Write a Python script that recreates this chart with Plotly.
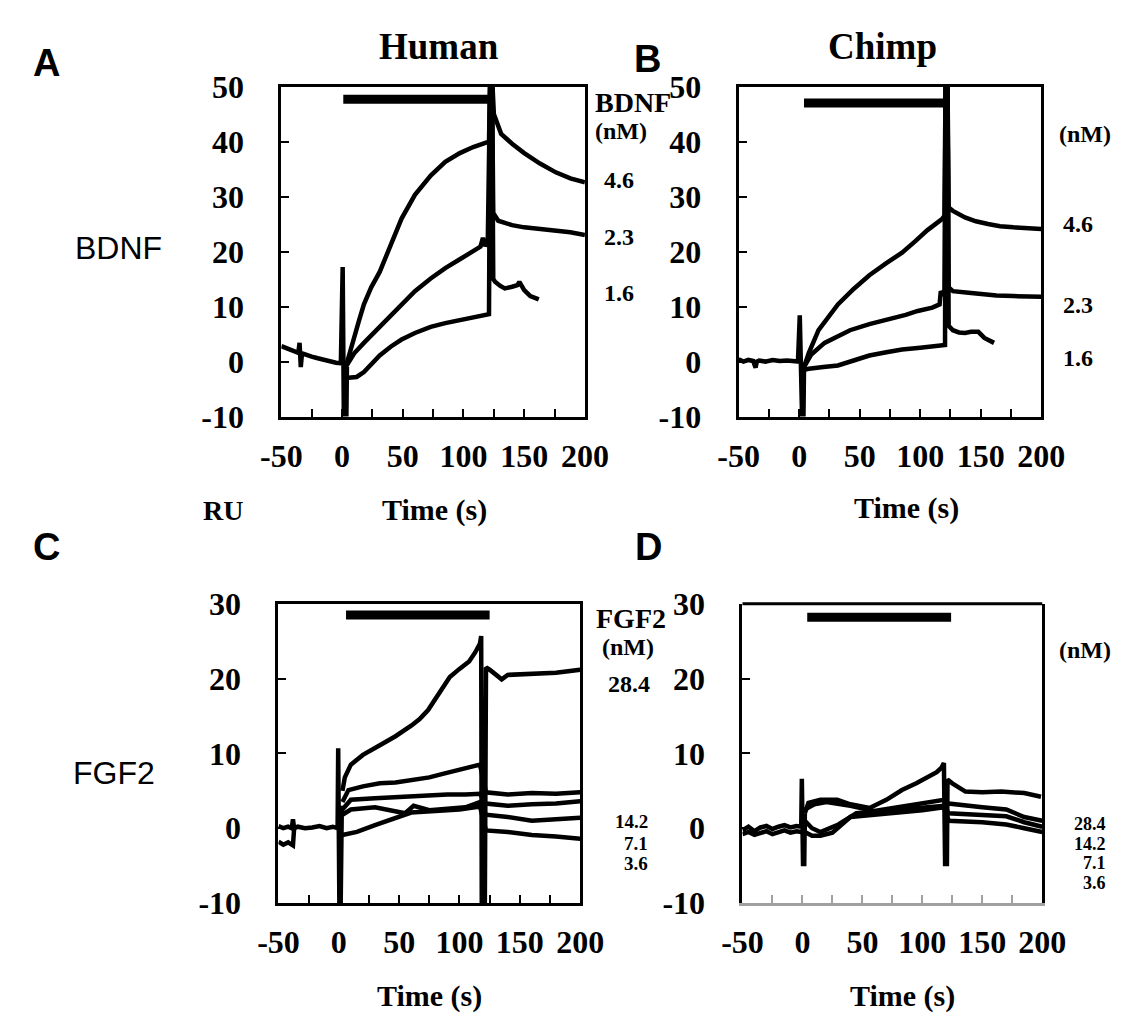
import plotly.graph_objects as go

W, H = 1145, 1032

# ---------------- data ----------------
x_tick_vals = [-50, -25, 0, 25, 50, 75, 100, 125, 150, 175, 200]
x_tick_text = ["-50", "", "0", "", "50", "", "100", "", "150", "", "200"]
y_ticks_bdnf = [-10, 0, 10, 20, 30, 40, 50]
y_text_bdnf = ["-10", "0", "10", "20", "30", "40", "50"]
y_ticks_fgf2 = [-10, 0, 10, 20, 30]
y_text_fgf2 = ["-10", "0", "10", "20", "30"]

# Panel A  (Human, BDNF)
A_base_t = [-50, -45, -40, -36, -35, -34, -33, -31, -25, -20, -15, -10, -5, -1, 0.5, 1.5, 2.5, 3.5, 4]
A_base_y = [2.8, 2.3, 1.9, 1.6, 3.4, -1.0, 1.5, 1.3, 0.9, 0.6, 0.3, 0.0, -0.2, -0.3, 17.2, -11, -11, -11, -1]
A_46_t = [3, 6, 10, 14, 18, 24, 31, 40, 49, 60, 73, 85, 97, 108, 117, 121, 122, 123.5, 125, 128, 131, 140, 150, 163, 176, 188, 200]
A_46_y = [-1, 1.5, 4.2, 7.5, 10.4, 13.5, 16.3, 21.3, 26.0, 30.3, 33.8, 36.3, 37.9, 39.0, 39.6, 40.0, 52, 52, 45, 43, 41.4, 39.6, 37.9, 36.0, 34.4, 33.3, 32.6]
A_23_t = [3, 10, 18, 31, 40, 49, 60, 73, 85, 97, 108, 114, 116, 118, 120, 122, 123.5, 124.5, 128.6, 140, 150, 163, 176, 188, 200]
A_23_y = [-1, 1.5, 3.4, 6.3, 8.5, 10.4, 12.8, 15.1, 17.0, 18.6, 20.0, 20.9, 22.5, 21.0, 21.8, 52, 52, 27, 25.6, 24.8, 24.4, 24.1, 23.9, 23.5, 23.0]
A_16_t = [3, 8, 12, 18, 25, 31, 40, 49, 60, 73, 85, 97, 110, 121, 122, 123.5, 124.5, 126, 130, 134, 140, 144.5, 146, 150, 155, 161, 162]
A_16_y = [-3, -3, -2.8, -1.9, -0.3, 1.1, 2.7, 4.0, 5.2, 6.3, 7.0, 7.5, 8.1, 8.6, 52, 52, 15, 14.5, 13.8, 13.3, 13.6, 13.9, 14.5, 13.0, 11.9, 11.3, 11.3]

# Panel B  (Chimp, BDNF)
B_base_t = [-50, -46, -42, -38, -36, -35, -33, -28, -22, -16, -10, -5, -1, 0.5, 1.5, 2.5, 3.5, 4]
B_base_y = [0.4, 0.0, 0.3, 0.1, -1.1, 0.0, 0.2, 0.0, 0.3, 0.1, 0.2, 0.0, 0.0, 8.4, -11, -11, -11, -1]
B_46_t = [4, 8, 16, 24, 32, 45, 58, 72, 85, 96, 106, 118, 120, 121, 122.5, 123.5, 127, 137, 146, 156, 166, 177, 188, 200]
B_46_y = [-1, 1.6, 5.7, 8.2, 10.4, 13.2, 15.7, 17.9, 19.8, 21.9, 23.9, 25.9, 26.5, 52, 52, 28, 27.4, 26.2, 25.5, 25.0, 24.6, 24.4, 24.2, 24.1]
B_23_t = [4, 10, 21, 32, 42, 58, 74, 88, 98, 110, 116, 117, 119, 120, 121, 122.5, 123.5, 127, 140, 150, 163, 177, 188, 200]
B_23_y = [-1, 1.3, 3.4, 4.6, 5.7, 6.8, 7.6, 8.5, 9.2, 9.8, 10.4, 12.8, 12.0, 12.5, 52, 52, 13.5, 12.8, 12.5, 12.2, 12.0, 11.9, 11.8, 11.8]
B_16_t = [4, 8, 20, 32, 45, 58, 72, 85, 100, 119, 120.5, 121, 122.5, 123.5, 127, 132, 137, 142, 148, 153, 157, 161]
B_16_y = [-1.5, -1.3, -1.0, -0.7, 0.2, 1.1, 1.7, 2.2, 2.5, 2.8, 3.0, 52, 52, 6.5, 5.7, 5.3, 5.2, 5.4, 5.4, 4.3, 3.8, 3.4]

# Panel C  (Human, FGF2)
C_base_t = [-50, -46, -42, -39, -38, -37, -34, -28, -22, -16, -10, -5, -1, -0.5, 0.5, 1.5, 2.5]
C_base_y = [0.3, 0.0, 0.2, 0.0, 1.2, 0.0, 0.2, 0.0, 0.1, 0.3, 0.0, 0.2, 0.0, 10.7, -11, -11, 3]
C_low_t = [-50, -46, -42, -38, -37]
C_low_y = [-1.8, -2.2, -1.9, -2.3, 0.0]
C1_t = [3, 5, 10, 20, 34, 47, 60, 67, 74, 83, 92, 100, 108, 113, 117, 118, 118.5, 121, 122, 125, 130, 135, 140, 153, 165, 180, 190, 200]
C1_y = [5, 6.8, 8.5, 9.8, 11.1, 12.3, 13.7, 14.6, 15.8, 18.0, 20.2, 21.3, 22.3, 23.5, 24.7, 25.7, -11, -11, 21.5, 21.2, 20.5, 19.9, 20.5, 20.6, 20.6, 20.8, 21.0, 21.2]
C2_t = [3, 8, 20, 34, 47, 60, 75, 87, 100, 110, 117, 122, 130, 140, 160, 180, 200]
C2_y = [3.5, 5.1, 5.6, 6.0, 6.1, 6.4, 6.8, 7.3, 7.8, 8.2, 8.5, 4.8, 4.6, 4.5, 4.7, 4.6, 4.8]
C3_t = [3, 10, 30, 50, 70, 90, 105, 117, 122, 140, 160, 180, 200]
C3_y = [2.5, 3.8, 4.0, 4.2, 4.3, 4.5, 4.5, 4.6, 3.3, 3.0, 3.2, 3.3, 3.6]
C4_t = [3, 10, 30, 45, 55, 62, 75, 90, 105, 117, 122, 140, 160, 180, 200]
C4_y = [1.8, 2.5, 2.8, 2.4, 2.0, 3.0, 2.4, 2.6, 2.8, 3.5, 1.8, 1.5, 1.0, 1.2, 1.4]
C5_t = [3, 15, 30, 45, 60, 80, 100, 117, 122, 140, 160, 180, 200]
C5_y = [-0.9, -0.5, 0.4, 1.2, 2.1, 2.3, 2.5, 2.9, -0.3, -0.5, -0.9, -1.1, -1.4]

# Panel D  (Chimp, FGF2)
D_base_t = [-50, -45, -40, -35, -30, -25, -20, -15, -10, -5, -1, -0.5, 0.5, 1.5, 2]
D_base_y = [-0.3, 0.2, -0.4, 0.1, 0.3, -0.1, 0.2, 0.4, 0.1, 0.3, 0.2, 6.6, -4.8, -4.8, 2]
D_base2_y = [-0.8, -0.5, -0.9, -0.6, -0.4, -0.8, -0.5, -0.3, -0.6, -0.4, -0.5, -0.5, -0.5, -0.5, 0.5]
D1_t = [2, 5, 15, 29, 40, 56, 70, 83, 95, 104, 112, 116, 118, 119, 120.5, 121, 125, 136, 150, 166, 185, 199]
D1_y = [2.0, 3.4, 3.8, 3.8, 3.2, 2.7, 3.8, 5.1, 6.0, 6.8, 7.5, 8.1, 8.7, -4.8, -4.8, 6.5, 6.0, 4.9, 4.8, 4.9, 4.7, 4.2]
D2_t = [2, 10, 20, 40, 60, 80, 100, 118, 122, 135, 150, 170, 185, 200]
D2_y = [2.5, 3.2, 3.5, 3.0, 2.3, 2.8, 3.2, 3.8, 3.3, 3.0, 2.8, 2.5, 1.5, 1.0]
D3_t = [2, 8, 15, 30, 45, 60, 80, 100, 118, 122, 135, 150, 170, 185, 200]
D3_y = [1.0, 0.0, -0.5, 0.5, 2.0, 2.2, 2.5, 2.8, 3.0, 2.0, 1.9, 1.8, 1.6, 0.8, 0.2]
D4_t = [2, 8, 15, 25, 40, 60, 80, 100, 118, 122, 150, 170, 185, 200]
D4_y = [-0.5, -1.0, -1.0, -0.6, 1.5, 1.8, 2.0, 2.4, 2.8, 1.0, 0.8, 0.5, 0.0, -0.5]

# injection bars (start, end, level) per panel A, B, C, D
bar_start = [1, 4, 6, 4]
bar_end = [123, 120.5, 125, 124]
bar_level = [47.7, 47.0, 28.5, 28.2]

# concentration labels
bdnf_conc_A = ["4.6", "2.3", "1.6"]
bdnf_conc_B = ["4.6", "2.3", "1.6"]
fgf2_conc_C = ["28.4", "14.2", "7.1", "3.6"]
fgf2_conc_D = ["28.4", "14.2", "7.1", "3.6"]

# ---------------- figure ----------------
fig = go.Figure()
LW = 4.5


def add(t, y, xa, ya, name):
    fig.add_trace(go.Scatter(x=t, y=y, mode="lines", xaxis=xa, yaxis=ya, name=name,
                             line=dict(color="black", width=LW), showlegend=False))


add(A_base_t, A_base_y, "x", "y", "baseline")
add(A_46_t, A_46_y, "x", "y", "4.6 nM")
add(A_23_t, A_23_y, "x", "y", "2.3 nM")
add(A_16_t, A_16_y, "x", "y", "1.6 nM")

add(B_base_t, B_base_y, "x2", "y2", "baseline")
add(B_46_t, B_46_y, "x2", "y2", "4.6 nM")
add(B_23_t, B_23_y, "x2", "y2", "2.3 nM")
add(B_16_t, B_16_y, "x2", "y2", "1.6 nM")

add(C_base_t, C_base_y, "x3", "y3", "baseline")
add(C_low_t, C_low_y, "x3", "y3", "baseline")
add(C1_t, C1_y, "x3", "y3", "28.4 nM")
add(C2_t, C2_y, "x3", "y3", "curve")
add(C3_t, C3_y, "x3", "y3", "14.2 nM")
add(C4_t, C4_y, "x3", "y3", "7.1 nM")
add(C5_t, C5_y, "x3", "y3", "3.6 nM")

add(D_base_t, D_base_y, "x4", "y4", "baseline")
add(D_base_t, D_base2_y, "x4", "y4", "baseline")
add(D1_t, D1_y, "x4", "y4", "28.4 nM")
add(D2_t, D2_y, "x4", "y4", "14.2 nM")
add(D3_t, D3_y, "x4", "y4", "7.1 nM")
add(D4_t, D4_y, "x4", "y4", "3.6 nM")

SERIF = "Liberation Serif"
SANS = "Liberation Sans"
TICKFONT = dict(family=SERIF, size=32, color="black", weight="bold")


def xax(x0, x1, anchor, linecolor="black", mirror=True, tickcolor="black"):
    return dict(domain=[x0 / W, x1 / W], anchor=anchor, range=[-50, 200],
                tickmode="array", tickvals=x_tick_vals, ticktext=x_tick_text,
                ticks="inside", ticklen=8, tickwidth=2, tickcolor=tickcolor,
                showline=True, linewidth=3, linecolor=linecolor, mirror=mirror,
                showgrid=False, zeroline=False, tickfont=TICKFONT, ticklabelstandoff=9,
                fixedrange=True)


def yax(top, bottom, anchor, rng, vals, texts):
    return dict(domain=[1 - bottom / H, 1 - top / H], anchor=anchor, range=rng,
                tickmode="array", tickvals=vals, ticktext=texts,
                ticks="inside", ticklen=8, tickwidth=2, tickcolor="black",
                showline=True, linewidth=3, linecolor="black", mirror=True,
                showgrid=False, zeroline=False, tickfont=TICKFONT, ticklabelstandoff=28,
                fixedrange=True)


fig.update_layout(
    width=W, height=H, margin=dict(l=0, r=0, t=0, b=0),
    paper_bgcolor="white", plot_bgcolor="white", showlegend=False,
    xaxis=xax(271, 587, "y"), yaxis=yax(71, 413, "x", [-10, 50], y_ticks_bdnf, y_text_bdnf),
    xaxis2=xax(747, 1062, "y2"), yaxis2=yax(71, 413, "x2", [-10, 50], y_ticks_bdnf, y_text_bdnf),
    xaxis3=xax(268, 582, "y3"), yaxis3=yax(607, 917, "x3", [-10, 30], y_ticks_fgf2, y_text_fgf2),
    xaxis4=xax(751, 1063, "y4", linecolor="#a0a0a0", mirror=False, tickcolor="#a0a0a0"),
    yaxis4=yax(607, 917, "x4", [-10, 30], y_ticks_fgf2, y_text_fgf2),
)

# top frame line for panel D (bottom line is grey in the original)
fig.add_shape(type="line", xref="x4 domain", yref="y4 domain", x0=0, x1=1, y0=1, y1=1,
              line=dict(color="black", width=3))

# injection bars
for i, (xr, yr) in enumerate([("x", "y"), ("x2", "y2"), ("x3", "y3"), ("x4", "y4")]):
    fig.add_shape(type="line", xref=xr, yref=yr, x0=bar_start[i], x1=bar_end[i],
                  y0=bar_level[i], y1=bar_level[i], line=dict(color="black", width=9))


def ann(text, px, py, size, family=SERIF, bold=True, xanchor="center"):
    fig.add_annotation(text=text, x=px / W, y=1 - py / H, xref="paper", yref="paper",
                       showarrow=False, xanchor=xanchor, yanchor="middle",
                       font=dict(family=family, size=size, color="black",
                                 weight="bold" if bold else "normal"))


# panel letters
ann("A", 27, 47, 38, SANS)
ann("B", 652, 43, 38, SANS)
ann("C", 27, 548, 38, SANS)
ann("D", 653, 548, 38, SANS)

# column titles
ann("Human", 435, 30, 37)
ann("Chimp", 897, 30, 37)

# row labels
ann("BDNF", 101, 238, 32, SANS, bold=False)
ann("FGF2", 97, 782, 32, SANS, bold=False)
ann("RU", 210, 510, 28)

# x-axis titles
ann("Time (s)", 430, 510, 30)
ann("Time (s)", 922, 508, 30)
ann("Time (s)", 425, 1013, 30)
ann("Time (s)", 918, 1013, 30)

# right-side concentration labels
ann("BDNF", 595, 88, 28, xanchor="left")
ann("(nM)", 625, 117, 24)
for lab, py in zip(bdnf_conc_A, [168, 227, 285]):
    ann(lab, 622, py, 24)

ann("(nM)", 1108, 120, 24)
for lab, py in zip(bdnf_conc_B, [213, 297, 352]):
    ann(lab, 1100, py, 24)

ann("FGF2", 635, 622, 28)
ann("(nM)", 632, 652, 24)
ann(fgf2_conc_C[0], 633, 690, 24)
for lab, py in zip(fgf2_conc_C[1:], [833, 855, 876]):
    ann(lab, 655, py, 19, xanchor="right")

ann("(nM)", 1108, 655, 24)
for lab, py in zip(fgf2_conc_D, [835, 856, 876, 896]):
    ann(lab, 1131, py, 18, xanchor="right")

fig.write_html("out.html")
